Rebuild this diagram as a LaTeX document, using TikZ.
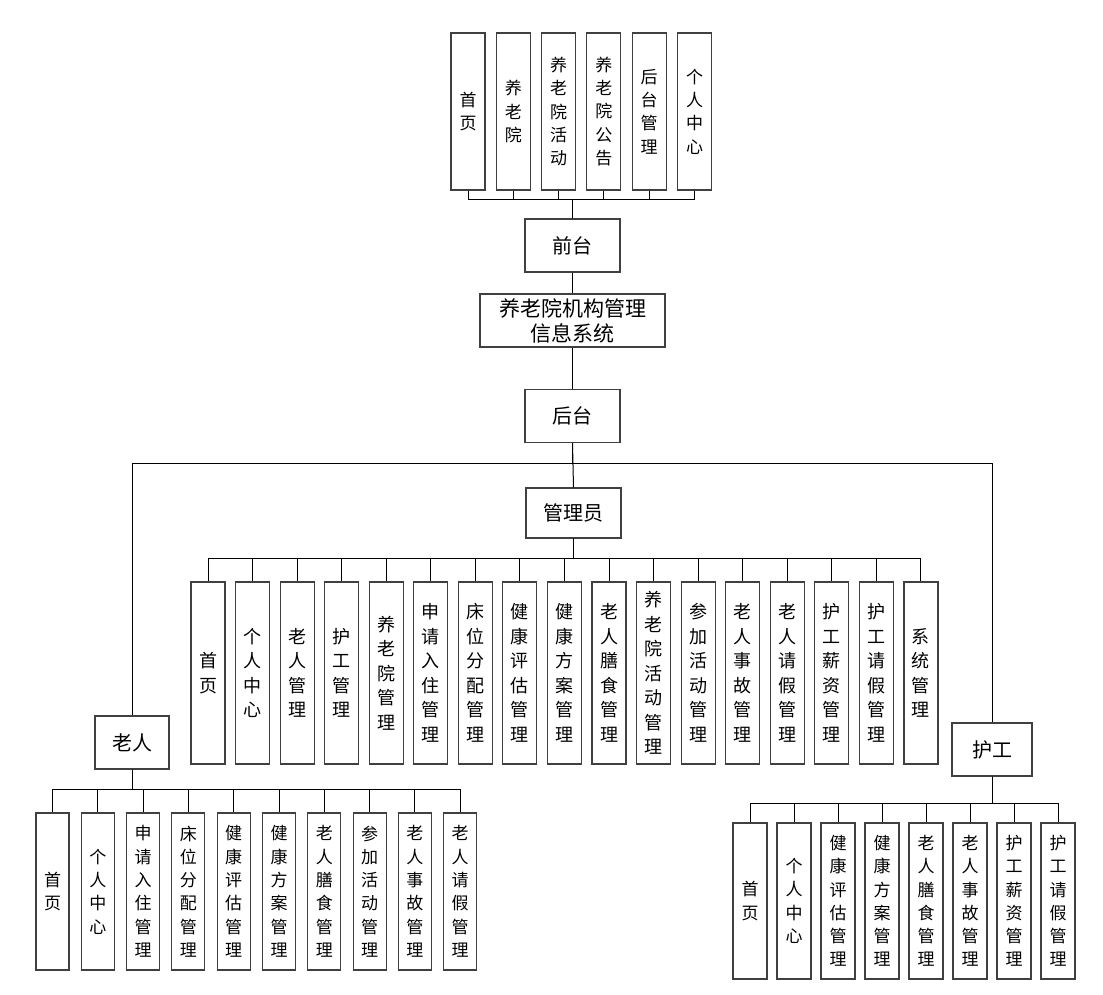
\documentclass[tikz,border=0pt]{standalone}
\usepackage{fontspec}
\setmainfont{Noto Sans CJK SC}
\begin{document}
\begin{tikzpicture}[x=1pt,y=-1pt,
  box/.style={draw=black!75,line width=1.1pt,rectangle,inner sep=0pt,align=center},
  vbox/.style={box,minimum width=34pt,font=\fontsize{17}{23.3}\selectfont},
  hbox/.style={box,minimum width=95pt,minimum height=53pt,font=\fontsize{20}{24}\selectfont},
  conn/.style={draw=black,line width=1pt}]
\useasboundingbox (0,0) rectangle (1103,995);
% top row
\foreach \t [count=\i from 0] in {首\\页,养\\老\\院,养\\老\\院\\活\\动,养\\老\\院\\公\\告,后\\台\\管\\理,个\\人\\中\\心}{
  \node[vbox,minimum height=157pt] (t\i) at ({468+45.3*\i},111.5) {\t};
}
\node[hbox] (qt) at (572.5,245.5) {前台};
\node[hbox,minimum width=185pt,font=\fontsize{21}{25}\selectfont] (sys) at (572.5,320.5) {养老院机构管理\\信息系统};
\node[hbox] (ht) at (572.5,416) {后台};
\node[hbox,minimum height=50pt] (adm) at (573.5,513) {管理员};
\node[hbox,minimum width=74pt] (lr) at (132,742.5) {老人};
\node[hbox,minimum width=80pt] (hg) at (992,749.5) {护工};
% admin children
\foreach \t [count=\i from 0] in {首\\页,个\\人\\中\\心,老\\人\\管\\理,护\\工\\管\\理,养\\老\\院\\管\\理,申\\请\\入\\住\\管\\理,床\\位\\分\\配\\管\\理,健\\康\\评\\估\\管\\理,健\\康\\方\\案\\管\\理,老\\人\\膳\\食\\管\\理,养\\老\\院\\活\\动\\管\\理,参\\加\\活\\动\\管\\理,老\\人\\事\\故\\管\\理,老\\人\\请\\假\\管\\理,护\\工\\薪\\资\\管\\理,护\\工\\请\\假\\管\\理,系\\统\\管\\理}{
  \node[vbox,minimum height=182pt,font=\fontsize{18}{24.5}\selectfont] (a\i) at ({208+44.56*\i},673) {\t};
  \draw[conn] (adm.south) -- ++(0,20) -| (a\i.north);
}
% elder children
\foreach \t [count=\i from 0] in {首\\页,个\\人\\中\\心,申\\请\\入\\住\\管\\理,床\\位\\分\\配\\管\\理,健\\康\\评\\估\\管\\理,健\\康\\方\\案\\管\\理,老\\人\\膳\\食\\管\\理,参\\加\\活\\动\\管\\理,老\\人\\事\\故\\管\\理,老\\人\\请\\假\\管\\理}{
  \node[vbox,minimum width=33pt,minimum height=157pt] (e\i) at ({52.5+45.3*\i},891.5) {\t};
  \draw[conn] (lr.south) -- ++(0,20) -| (e\i.north);
}
% nurse children
\foreach \t [count=\i from 0] in {首\\页,个\\人\\中\\心,健\\康\\评\\估\\管\\理,健\\康\\方\\案\\管\\理,老\\人\\膳\\食\\管\\理,老\\人\\事\\故\\管\\理,护\\工\\薪\\资\\管\\理,护\\工\\请\\假\\管\\理}{
  \node[vbox,minimum height=156pt] (n\i) at ({750+44*\i},901) {\t};
  \draw[conn] (hg.south) -- ++(0,27) -| (n\i.north);
}
% top connectors
\foreach \i in {0,...,5}{
  \draw[conn] (qt.north) -- ++(0,-19) -| (t\i.south);
}
\draw[conn] (qt.south) -- (sys.north);
\draw[conn] (sys.south) -- (ht.north);
\draw[conn] (ht.south) -- (adm.north);
\draw[conn] (ht.south) -- ++(0,20) -| (lr.north);
\draw[conn] (ht.south) -- ++(0,20) -| (hg.north);
\end{tikzpicture}
\end{document}
